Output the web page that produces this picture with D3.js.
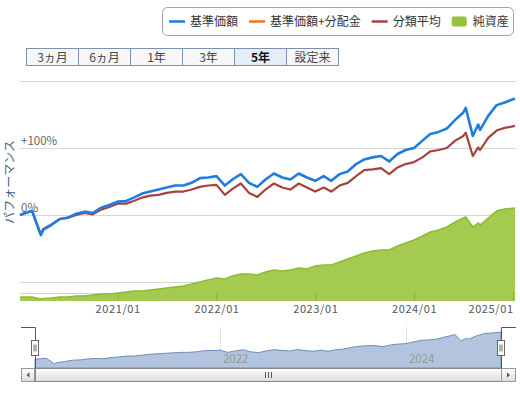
<!DOCTYPE html>
<html>
<head>
<meta charset="utf-8">
<script src="https://cdn.jsdelivr.net/npm/d3@7"></script>
<style>
  body { margin: 0; background: #fff; }
  svg { display: block; font-family: "Noto Sans CJK JP", "Noto Sans", sans-serif; }
</style>
</head>
<body>
<svg id="chart" width="520" height="395"></svg>
<script>
// Dates of the sampled points (5 year range)
const dates = [
  '2020-01-06', '2020-02-03', '2020-02-20', '2020-03-05', '2020-03-23', '2020-04-01', '2020-05-01',
  '2020-06-01', '2020-07-01', '2020-08-01', '2020-09-01', '2020-10-01', '2020-11-01', '2020-12-01',
  '2021-01-01', '2021-02-01', '2021-03-01', '2021-04-01', '2021-05-01', '2021-06-01', '2021-07-01',
  '2021-08-01', '2021-09-01', '2021-10-01', '2021-11-01', '2021-12-01', '2022-01-01', '2022-02-01',
  '2022-03-01', '2022-04-01', '2022-05-01', '2022-06-01', '2022-07-01', '2022-08-01', '2022-09-01',
  '2022-10-01', '2022-11-01', '2022-12-01', '2023-01-01', '2023-02-01', '2023-03-01', '2023-04-01',
  '2023-05-01', '2023-06-01', '2023-07-01', '2023-08-01', '2023-09-01', '2023-10-01', '2023-11-01',
  '2023-12-01', '2024-01-01', '2024-02-01', '2024-03-01', '2024-04-01', '2024-05-01', '2024-06-01',
  '2024-07-01', '2024-07-10', '2024-08-05', '2024-08-25', '2024-09-01', '2024-10-01', '2024-11-01',
  '2024-12-01', '2025-01-08'
];

// 基準価額 performance (%)
const priceSeries = [
  0, 4, 6, -10, -30, -22, -15,
  -6, -4, 2, 5, 3, 11, 15,
  20, 21, 26, 32, 35, 38, 41,
  44, 44, 48, 55, 56, 58, 44,
  53, 61, 48, 42, 53, 62, 56,
  53, 62, 56, 51, 58, 51, 61,
  65, 76, 83, 86, 88, 80, 91,
  97, 100, 111, 121, 124, 129, 142,
  153, 160, 118, 135, 127, 148, 164,
  168, 174
];

// 分類平均 performance (%)
const categorySeries = [
  0, 4, 6, -10, -29, -21, -14,
  -6, -4, 0, 3, 1, 8, 12,
  17, 17, 21, 26, 29, 30, 33,
  35, 35, 38, 42, 44, 45, 30,
  39, 47, 33, 27, 38, 47, 41,
  38, 47, 41, 35, 41, 35, 44,
  48, 58, 67, 68, 70, 61, 71,
  76, 79, 86, 95, 97, 100, 111,
  118, 123, 88, 101, 97, 115, 126,
  130, 133
];

// 純資産 (億円)
const assetSeries = [
  40, 40, 40, 30, 20, 25, 30,
  40, 40, 50, 50, 60, 70, 70,
  80, 90, 100, 100, 110, 120, 130,
  140, 150, 170, 190, 210, 230, 220,
  250, 270, 270, 260, 290, 310, 300,
  310, 330, 320, 350, 360, 360, 390,
  420, 450, 480, 500, 510, 510, 550,
  580, 610, 650, 690, 710, 740, 790,
  830, 840, 740, 780, 760, 830, 900,
  920, 930
];

const perfGrid = [-100, 0, 100, 200];
const perfLabels = [0, 100];
const yearTicks = ['2021-01-01', '2022-01-01', '2023-01-01', '2024-01-01', '2025-01-01'];
const navigatorYears = ['2022-01-01', '2024-01-01'];
const rangeButtons = ['3ヵ月', '6ヵ月', '1年', '3年', '5年', '設定来'];
const selectedRange = '5年';
const legendItems = [
  { name: '基準価額', color: '#1f7de0', type: 'line' },
  { name: '基準価額+分配金', color: '#f07322', type: 'line' },
  { name: '分類平均', color: '#a8423f', type: 'line' },
  { name: '純資産', color: '#94c23a', type: 'box' }
];

const parse = d3.timeParse('%Y-%m-%d');
const rows = dates.map((d, i) => ({
  date: parse(d),
  price: priceSeries[i],
  avg: categorySeries[i],
  assets: assetSeries[i]
}));

const svg = d3.select('#chart');

// Layout
const plot = { left: 20, right: 516, top: 81, bottom: 293, base: 301 };
const nav = { left: 21, right: 516, top: 327, bottom: 368, from: 35, to: 501 };

const x = d3.scaleTime().domain(d3.extent(rows, d => d.date)).range([plot.left, 515]);
const y = d3.scaleLinear().domain([-100, 200]).range([282, plot.top]);
const yAssets = d3.scaleLinear().domain([0, 1000]).range([plot.base, 201]);

// Legend
const legend = svg.append('g').attr('class', 'legend');
legend.append('rect')
  .attr('x', 162.5).attr('y', 7.5)
  .attr('width', 351).attr('height', 28)
  .attr('rx', 5)
  .attr('fill', '#fff')
  .attr('stroke', '#a0a0a0');

let lx = 169;
legendItems.forEach(item => {
  if (item.type === 'line') {
    legend.append('line')
      .attr('x1', lx).attr('x2', lx + 16)
      .attr('y1', 21.5).attr('y2', 21.5)
      .attr('stroke', item.color)
      .attr('stroke-width', 2.5);
  } else {
    legend.append('rect')
      .attr('x', lx).attr('y', 16.5)
      .attr('width', 15).attr('height', 10)
      .attr('rx', 2)
      .attr('fill', item.color);
  }
  const label = legend.append('text')
    .attr('x', lx + 21).attr('y', 26)
    .attr('font-size', 12)
    .attr('fill', '#333')
    .text(item.name);
  lx += 21 + label.node().getComputedTextLength() + 11;
});

// Range selector buttons
const buttons = svg.append('g').attr('class', 'range-buttons')
  .selectAll('g')
  .data(rangeButtons)
  .join('g')
    .attr('transform', (d, i) => `translate(${26.5 + i * 52},48.5)`);

buttons.append('rect')
  .attr('width', 52).attr('height', 17)
  .attr('fill', d => d === selectedRange ? '#e4edf8' : '#f7f7f7')
  .attr('stroke', '#7d90b0');

buttons.append('text')
  .attr('x', 26).attr('y', 13)
  .attr('text-anchor', 'middle')
  .attr('font-size', 12)
  .attr('font-weight', d => d === selectedRange ? 'bold' : 'normal')
  .attr('fill', d => d === selectedRange ? '#111' : '#444')
  .text(d => d);

// Grid lines
svg.append('g').attr('class', 'grid')
  .selectAll('line')
  .data(perfGrid)
  .join('line')
    .attr('x1', plot.left).attr('x2', plot.right)
    .attr('y1', d => Math.round(y(d)) + 0.5)
    .attr('y2', d => Math.round(y(d)) + 0.5)
    .attr('stroke', '#d8d8d8');

svg.append('line')
  .attr('x1', plot.left).attr('x2', plot.right)
  .attr('y1', plot.bottom + 0.5).attr('y2', plot.bottom + 0.5)
  .attr('stroke', '#d0d0d0');

// Net assets area
svg.append('path')
  .datum(rows)
  .attr('fill', '#a4cb50')
  .attr('d', d3.area().x(d => x(d.date)).y0(plot.base).y1(d => yAssets(d.assets)));

svg.append('path')
  .datum(rows)
  .attr('fill', 'none')
  .attr('stroke', '#8dba36')
  .attr('stroke-width', 1.5)
  .attr('d', d3.line().x(d => x(d.date)).y(d => yAssets(d.assets)));

// Lines
svg.append('path')
  .datum(rows)
  .attr('fill', 'none')
  .attr('stroke', '#a8423f')
  .attr('stroke-width', 2.2)
  .attr('stroke-linejoin', 'round')
  .attr('d', d3.line().x(d => x(d.date)).y(d => y(d.avg)));

svg.append('path')
  .datum(rows)
  .attr('fill', 'none')
  .attr('stroke', '#1f7de0')
  .attr('stroke-width', 2.6)
  .attr('stroke-linejoin', 'round')
  .attr('d', d3.line().x(d => x(d.date)).y(d => y(d.price)));

// Y labels
svg.append('g').attr('class', 'y-labels')
  .selectAll('text')
  .data(perfLabels)
  .join('text')
    .attr('x', 21)
    .attr('y', d => y(d) - 3)
    .attr('font-size', 11.5)
    .attr('fill', '#666')
    .text(d => (d > 0 ? '+' : '') + d + '%');

svg.append('text')
  .attr('transform', 'translate(10,182) rotate(-90)')
  .attr('dy', '0.35em')
  .attr('text-anchor', 'middle')
  .attr('font-size', 12)
  .attr('fill', '#46618a')
  .text('パフォーマンス');

// X axis
const xAxis = svg.append('g')
  .attr('transform', `translate(0,${plot.base})`)
  .call(d3.axisBottom(x)
    .tickValues(yearTicks.map(parse))
    .tickFormat(d3.timeFormat('%Y/%m'))
    .tickSizeInner(-8)
    .tickSizeOuter(0)
    .tickPadding(4));

xAxis.select('.domain').remove();
xAxis.selectAll('.tick line').attr('stroke', 'rgba(60,90,20,0.25)');
xAxis.selectAll('.tick text')
  .attr('font-size', 11)
  .attr('letter-spacing', 0.6)
  .attr('fill', '#555')
  .filter(d => x(d) + 24 > plot.right)
    .attr('text-anchor', 'end');
xAxis.attr('font-family', null);

// Navigator
const xNav = d3.scaleTime().domain(x.domain()).range([nav.from, nav.to]);
const yNav = d3.scaleLinear().domain([-56, 200]).range([nav.bottom, 328]);

const navigator = svg.append('g').attr('class', 'navigator');

navigator.selectAll('line.nav-grid')
  .data(navigatorYears.map(parse))
  .join('line')
    .attr('class', 'nav-grid')
    .attr('x1', d => Math.round(xNav(d)) + 0.5)
    .attr('x2', d => Math.round(xNav(d)) + 0.5)
    .attr('y1', nav.top).attr('y2', nav.bottom)
    .attr('stroke', '#e3e3e3');

navigator.append('path')
  .datum(rows)
  .attr('fill', '#b3c5de')
  .attr('stroke', '#6d8cba')
  .attr('stroke-width', 1)
  .attr('d', d3.area().x(d => xNav(d.date)).y0(nav.bottom).y1(d => yNav(d.price)));

navigator.selectAll('text')
  .data(navigatorYears.map(parse))
  .join('text')
    .attr('x', d => xNav(d) + 3)
    .attr('y', 363)
    .attr('font-size', 11.5)
    .attr('fill', '#999')
    .text(d3.timeFormat('%Y'));

navigator.append('path')
  .attr('fill', 'none')
  .attr('stroke', '#555')
  .attr('d', `M${nav.left},${nav.top + 0.5}H${nav.from + 0.5}V${nav.bottom}M${nav.to + 0.5},${nav.bottom}V${nav.top + 0.5}H${nav.right}`);

// Handles
[nav.from, nav.to].forEach(hx => {
  const h = navigator.append('g').attr('transform', `translate(${hx - 3.5},340.5)`);
  h.append('rect').attr('width', 7).attr('height', 15).attr('fill', '#fff').attr('stroke', '#666');
  h.append('path').attr('stroke', '#666').attr('d', 'M2.5,4V11M4.5,4V11');
});

// Scrollbar
const defs = svg.append('defs');
const grad = defs.append('linearGradient').attr('id', 'scroll-grad').attr('x1', 0).attr('x2', 0).attr('y1', 0).attr('y2', 1);
grad.append('stop').attr('offset', '0%').attr('stop-color', '#ffffff');
grad.append('stop').attr('offset', '100%').attr('stop-color', '#dcdcdc');

const scroll = svg.append('g').attr('class', 'scrollbar');
scroll.append('rect')
  .attr('x', nav.left + 0.5).attr('y', nav.bottom + 0.5)
  .attr('width', nav.right - nav.left - 1).attr('height', 13)
  .attr('fill', '#eee').attr('stroke', '#aaa');
scroll.append('rect')
  .attr('x', nav.from + 0.5).attr('y', nav.bottom + 0.5)
  .attr('width', nav.to - nav.from).attr('height', 13)
  .attr('fill', 'url(#scroll-grad)').attr('stroke', '#888');

const gripX = Math.round((nav.from + nav.to) / 2);
scroll.append('path')
  .attr('stroke', '#555')
  .attr('d', `M${gripX - 2.5},372V378M${gripX + 0.5},372V378M${gripX + 3.5},372V378`);

[[nav.left, 14, 'left'], [nav.to, nav.right - nav.to, 'right']].forEach(([bx, bw, dir]) => {
  scroll.append('rect')
    .attr('x', bx + 0.5).attr('y', nav.bottom + 0.5)
    .attr('width', bw - 1).attr('height', 13)
    .attr('fill', 'url(#scroll-grad)').attr('stroke', '#999');
  const cx = bx + bw / 2;
  scroll.append('path')
    .attr('fill', '#555')
    .attr('d', dir === 'left'
      ? `M${cx + 1.5},${372.5}L${cx - 1.5},${375}L${cx + 1.5},${377.5}Z`
      : `M${cx - 1.5},${372.5}L${cx + 1.5},${375}L${cx - 1.5},${377.5}Z`);
});
</script>
</body>
</html>
